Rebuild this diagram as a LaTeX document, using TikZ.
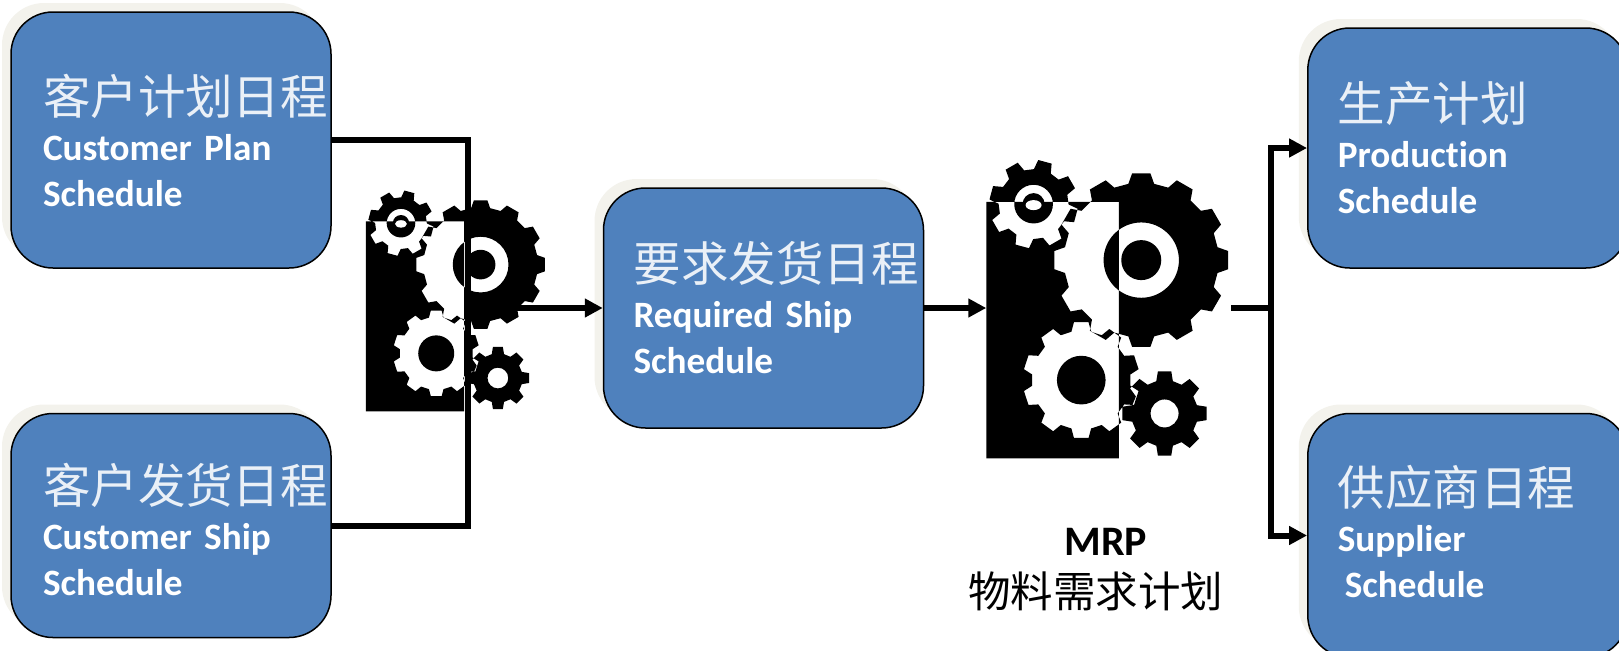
\documentclass[tikz,border=0pt]{standalone}
\usepackage{fontspec}
\setmainfont[Ligatures=NoCommon, WordSpace=0.5]{Carlito}
\newfontfamily\cjkfont{Noto Sans CJK SC}
\usetikzlibrary{positioning, arrows.meta, calc}

\definecolor{boxblue}{HTML}{4F81BD}
\definecolor{boxshade}{HTML}{F3F2EC}

% first line of a box, may run past the text width
\newcommand{\zhline}[1]{\makebox[0pt][l]{\cjkfont\mdseries\fontsize{23.75}{23}\selectfont\color{white!88!boxblue} #1}}

% one toothed wheel as part of a path: centre x, centre y, tip radius, root radius, teeth, phase
\newcommand{\wheel}[6]{
  ($(#1,#2)+(#6-0.32*360/#5:#4)$)
  \foreach \t in {1,...,#5} {
    -- ($(#1,#2)+(#6+\t*360/#5-360/#5-0.32*360/#5:#4)$)
    -- ($(#1,#2)+(#6+\t*360/#5-360/#5-0.20*360/#5:#3)$)
    -- ($(#1,#2)+(#6+\t*360/#5-360/#5+0.20*360/#5:#3)$)
    -- ($(#1,#2)+(#6+\t*360/#5-360/#5+0.32*360/#5:#4)$)
  } -- cycle
}
% the gear icon, fitted to a node
\newcommand{\gearicon}[2]{
  \begin{scope}[shift={(#1.north west)}, x=#2pt, y=-#2pt, shift={(-80,-55)}]
    \fill[black, even odd rule]
      (80,180) rectangle (478,950)
      \wheel{545}{355}{262}{232}{12}{0} (545,355) circle (113) (545,355) circle (60)
      \wheel{365}{715}{175}{148}{10}{18} (365,715) circle (73)
      \wheel{615}{815}{128}{100}{8}{270} (615,815) circle (42)
      \wheel{222}{187}{133}{105}{8}{285} (222,187) circle (58);
    \fill[black] (222,187) circle (33);
    \fill[white] (222,190) ellipse (24 and 15);
  \end{scope}
}

\begin{document}
\begin{tikzpicture}[
        x=.5pt, y=-.5pt,
        schedbox/.style={rectangle, draw=black, line width=.75pt, fill=boxblue, rounded corners=21pt, text=white,
            minimum width=160pt, inner xsep=16pt, inner ysep=0pt, text width=128pt, align=left,
            font=\fontsize{18.6}{23}\selectfont\bfseries,
            preaction={fill=boxshade, draw=none, transform canvas={xshift=-4.5pt, yshift=4.5pt}}},
        nearbox/.style={schedbox, inner xsep=15pt, text width=130pt},
        gearbox/.style={rectangle, inner sep=0pt},
        arrow/.style={-{Triangle[length=9pt, width=9pt]}, line width=3pt},
        line/.style={line width=3pt}
        ]
        \clip (0,0) rectangle (1619,650);

        \node[schedbox, minimum height=128pt] (plan) at (171,140) {\zhline{客户计划日程}\\Customer Plan\\Schedule};
        \node[schedbox, minimum height=112pt, below=72pt of plan] (ship) {\rule{0pt}{24pt}\zhline{客户发货日程}\\Customer Ship\\Schedule};
        \node[nearbox, minimum height=120pt, right=135.5pt of plan, yshift=-84pt] (request) {\zhline{要求发货日程}\\Required Ship\\Schedule};

        \node[gearbox, minimum width=90.5pt, minimum height=110.5pt, left=27.5pt of request, yshift=3.25pt] (mergegear) {};
        \node[gearbox, minimum width=122pt, minimum height=149.5pt, right=31pt of request, yshift=-1pt] (mrpgear) {};
        \gearicon{mergegear}{.1233}
        \gearicon{mrpgear}{.16667}

        \node[nearbox, minimum height=120pt, right=38pt of mrpgear, yshift=81pt] (production) {\zhline{生产计划}\\Production\\Schedule};
        \node[nearbox, minimum height=122pt, below=72pt of production] (supplier) {\zhline{供应商日程}\\Supplier\\\hspace*{3.5pt}Schedule\rule[-4pt]{0pt}{0pt}};

        \node[font=\fontsize{21}{25}\selectfont\bfseries, below=30.5pt of mrpgear, xshift=-1.5pt] (mrplabel) {MRP};
        \node[font=\cjkfont\fontsize{21.25}{25}\selectfont, below=1pt of mrplabel, xshift=-5pt] (mrpname) {物料需求计划};

        \coordinate[right=68pt of plan.east] (mergecorner);
        \coordinate[right=20pt of mrpgear.east |- request.east] (splitjoint);

        \draw[line] (plan.east) -- (mergecorner) |- (ship.east);
        \draw[arrow] (mergecorner |- request.west) -- (request.west);
        \draw[arrow] (request.east) -- (mrpgear.west |- request.east);
        \draw[line] (mrpgear.east |- request.east) -- (splitjoint);
        \draw[arrow] (splitjoint) |- (production.west);
        \draw[arrow] (splitjoint) |- (supplier.west);
    \end{tikzpicture}
\end{document}
